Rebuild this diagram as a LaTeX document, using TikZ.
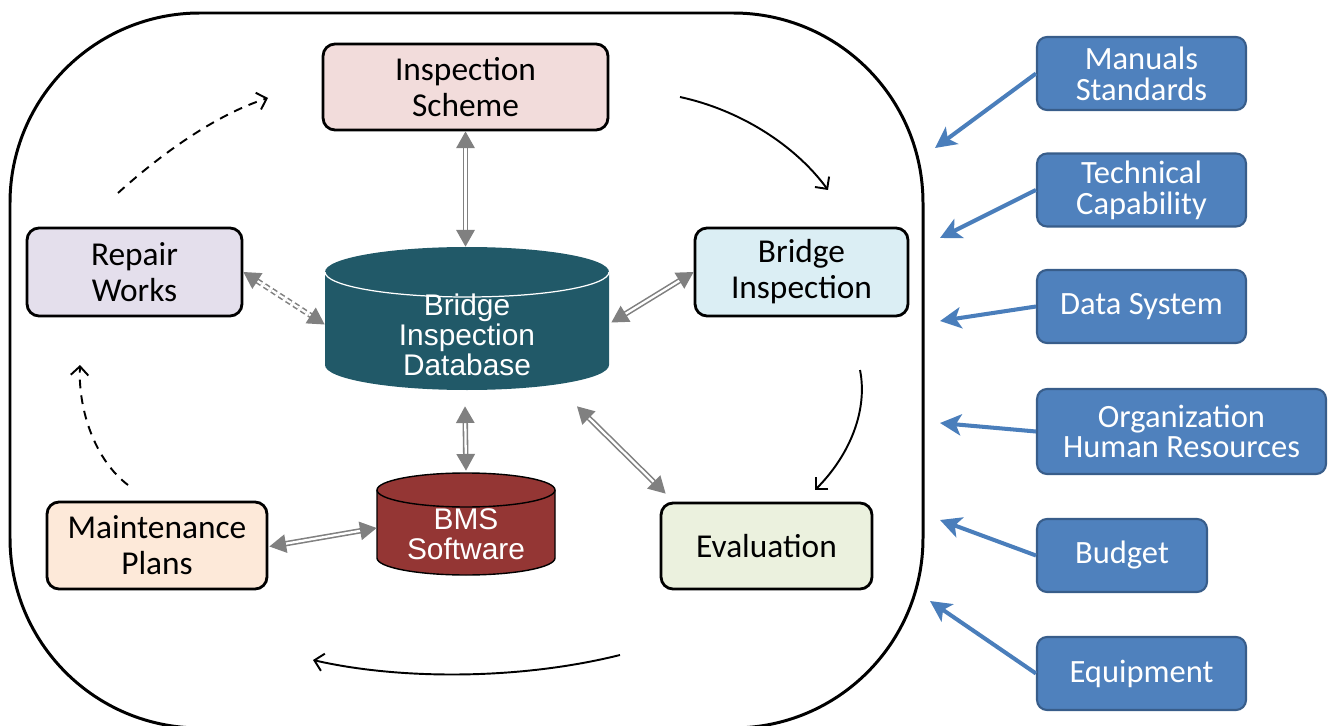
\documentclass[tikz,border=0pt]{standalone}
\usepackage{fontspec}
\setmainfont{Carlito}
\newfontfamily\arialf{Liberation Sans}
\usetikzlibrary{arrows.meta,calc}
\definecolor{schemeF}{HTML}{F2DCDB}
\definecolor{repairF}{HTML}{E4DFEC}
\definecolor{bridgeF}{HTML}{DBEEF4}
\definecolor{maintF}{HTML}{FDE9D9}
\definecolor{evalF}{HTML}{EBF1DE}
\definecolor{dbF}{HTML}{215968}
\definecolor{bmsF}{HTML}{943634}
\definecolor{blueF}{HTML}{4F81BD}
\definecolor{blueB}{HTML}{385D8A}
\definecolor{arrowB}{HTML}{4A7EBB}
\definecolor{linkG}{HTML}{808080}
\begin{document}
\begin{tikzpicture}[x=0.02cm,y=-0.02cm,
  stagebox/.style={draw=black, line width=1.6pt, rounded corners=0.24cm, align=center,
    font=\fontsize{19}{20.5}\selectfont, inner sep=0pt},
  factor/.style={draw=blueB, line width=1.2pt, fill=blueF, rounded corners=0.2cm, text=white,
    align=center, font=\fontsize{18.5}{17.5}\selectfont, inner sep=0pt,
    minimum width=4.18cm, minimum height=1.46cm},
  link/.style={draw=linkG, line width=0.9pt, double=white, double distance=1.3pt,
    {Triangle[length=9.5pt,width=10.5pt]}-{Triangle[length=9.5pt,width=10.5pt]}},
  influence/.style={draw=arrowB, line width=2.3pt, -{Stealth[length=12pt,width=12pt,inset=3pt]}},
  flow/.style={line width=1.1pt, -{Straight Barb[length=5pt,width=10pt]}},
  dflow/.style={flow, dash pattern=on 5pt off 4pt},
  cyltext/.style={text=white, align=center, font=\arialf\fontsize{17}{17}\selectfont, inner sep=0pt}
]
\useasboundingbox (0,0) rectangle (1332,726);
\clip (0,0) rectangle (1332,726);

% outer rounded frame
\draw[line width=1.7pt, rounded corners=3.8cm] (10,13) rectangle (923,728);

% stage boxes
\node[stagebox, fill=schemeF, minimum width=5.7cm, minimum height=1.72cm] (scheme) at (465.5,87) {Inspection\\Scheme};
\node[stagebox, fill=repairF, minimum width=4.3cm, minimum height=1.76cm] (repair) at (134.5,272) {Repair\\Works};
\node[stagebox, fill=bridgeF, minimum width=4.26cm, minimum height=1.76cm] (bridge) at (801.5,272) {Bridge\\Inspection};
\node[stagebox, fill=maintF, minimum width=4.4cm, minimum height=1.74cm] (maint) at (157,545.5) {Maintenance\\Plans};
\node[stagebox, fill=evalF, minimum width=4.22cm, minimum height=1.72cm] (eval) at (766.5,546) {Evaluation};

% database cylinder
\node[minimum width=5.68cm, minimum height=2.86cm, inner sep=0pt] (db) at (467,318.5) {};
\fill[dbF] (325,272) -- (325,365) arc (180:0:142 and 25) -- (609,272) arc (0:-180:142 and 25) -- cycle;
\draw[white, line width=0.7pt] (325,272) arc (180:0:142 and 25);
\node[cyltext] (dbtext) at (467,335) {Bridge\\Inspection\\Database};

% BMS cylinder
\node[minimum width=3.56cm, minimum height=2.04cm, inner sep=0pt] (bms) at (466,524) {};
\filldraw[fill=bmsF, draw=black, line width=0.8pt] (377,490) -- (377,558) arc (180:0:89 and 17) -- (555,490) arc (0:-180:89 and 17) -- cycle;
\draw[black, line width=0.8pt] (377,490) arc (180:0:89 and 17);
\node[cyltext] (bmstext) at (466,534) {BMS\\Software};

% gray links
\draw[link] (scheme.south) -- (scheme.south |- db.north);
\draw[link] (bridge.west) -- ($(db.east)+(2,4)$);
\draw[link, dash pattern=on 3pt off 2pt] (repair.east) -- ($(db.west)+(0,6)$);
\draw[link] ($(db.south)+(-2,16)$) -- ($(bms.north)+(0,-2)$);
\draw[link] ($(db.south)+(110,16)$) -- ($(eval.north west)+(6,-8)$);
\draw[link] ($(maint.east)+(1,1)$) -- ($(bms.west)+(0,4)$);

% cycle arrows
\coordinate (c1s) at (680,97);   \coordinate (c1e) at (828,190);
\coordinate (c2s) at (860,370);  \coordinate (c2e) at (815,490);
\coordinate (c3s) at (620,655);  \coordinate (c3e) at (313,660);
\coordinate (c4s) at (128,485);  \coordinate (c4e) at (80,365);
\coordinate (c5s) at (118,193);  \coordinate (c5e) at (268,98);
\draw[flow] (c1s) .. controls (740,110) and (795,145) .. (c1e);
\draw[flow] (c2s) .. controls (868,410) and (850,455) .. (c2e);
\draw[flow] (c3s) .. controls (520,680) and (400,680) .. (c3e);
\draw[dflow] (c4s) .. controls (95,460) and (78,410) .. (c4e);
\draw[dflow] (c5s) .. controls (160,155) and (215,115) .. (c5e);

% external factors
\node[factor] (manuals) at (1141.5,73.5) {Manuals\\Standards};
\node[factor] (tech) at (1141.5,190) {Technical\\Capability};
\node[factor] (data) at (1141.5,306.5) {Data System};
\node[factor, minimum width=5.78cm, minimum height=1.7cm] (org) at (1181.5,431.5) {Organization\\Human Resources};
\node[factor, minimum width=3.4cm] (budget) at (1122,555.5) {Budget};
\node[factor] (equip) at (1141.5,673.5) {Equipment};

\coordinate (t1) at (935,148);
\coordinate (t2) at (940,238);
\coordinate (t3) at (940,321);
\coordinate (t4) at (940,423);
\coordinate (t5) at (940,520);
\coordinate (t6) at (930,601);
\draw[influence] (manuals.west) -- (t1);
\draw[influence] (tech.west) -- (t2);
\draw[influence] (data.west) -- (t3);
\draw[influence] (org.west) -- (t4);
\draw[influence] (budget.west) -- (t5);
\draw[influence] (equip.west) -- (t6);
\end{tikzpicture}
\end{document}
